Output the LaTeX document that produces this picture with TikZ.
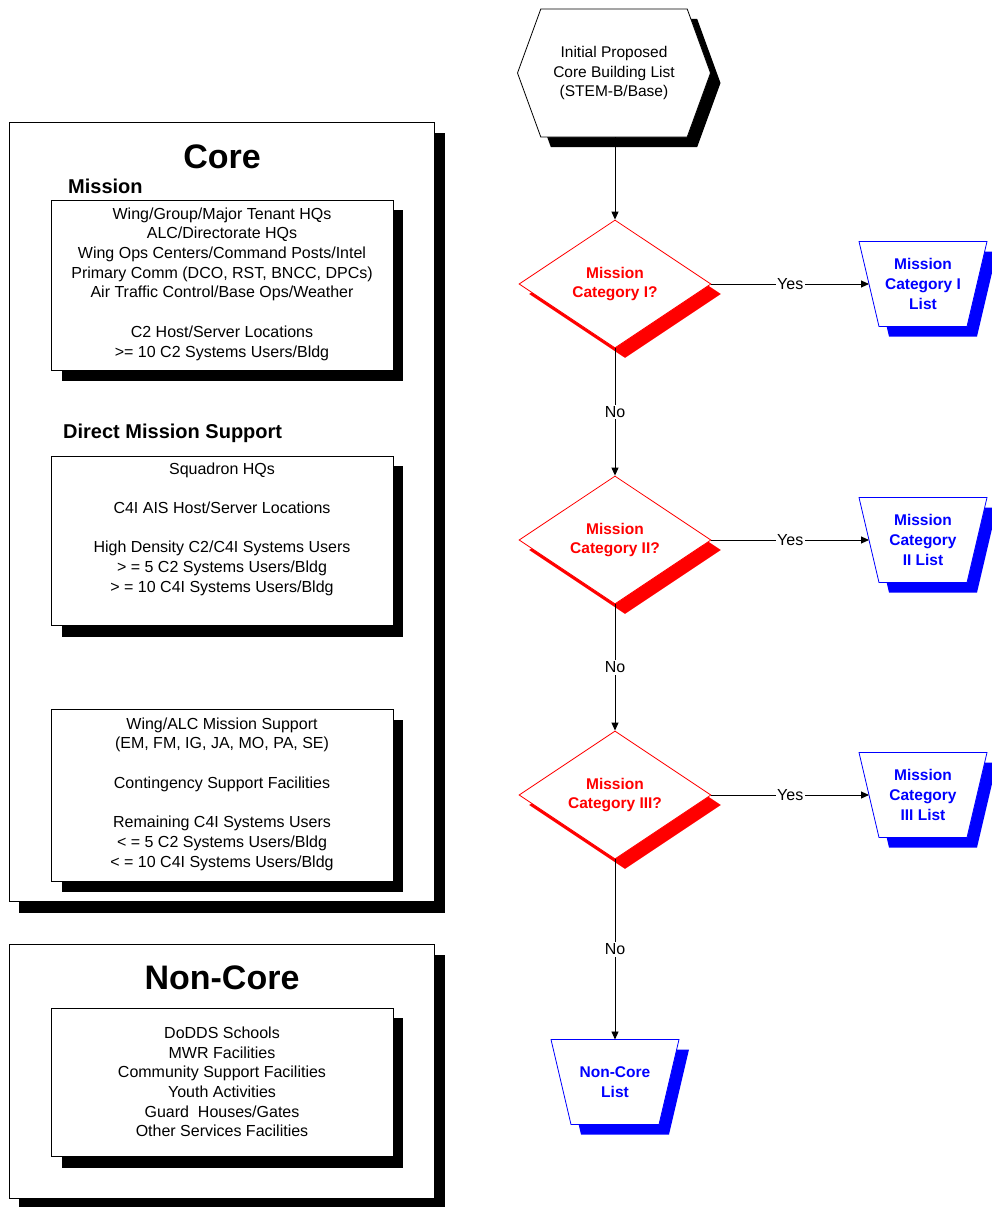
\documentclass[tikz,border=0pt]{standalone}
\usepackage{fontspec}
\setmainfont{Liberation Sans}
\usetikzlibrary{shapes.geometric,shapes.symbols,arrows.meta,shadows,calc}
\definecolor{myred}{RGB}{255,0,0}
\definecolor{myblue}{RGB}{0,0,255}
\newcommand{\listshape}[3]{%
  \begin{scope}[shift={(#2)}]
    \fill[myblue] (-54,-32.5) -- (74,-32.5) -- (54,52.5) -- (-34,52.5) -- cycle;
    \filldraw[draw=myblue,fill=white,line width=0.8pt] (-64,-42.5) -- (64,-42.5) -- (44,42.5) -- (-44,42.5) -- cycle;
    \coordinate (#1w) at (-54,0);
    \coordinate (#1n) at (0,-42.5);
  \end{scope}
  \node[listtext] (#1) at (#2) {#3};}
\begin{document}
\begin{tikzpicture}[x=1pt,y=-1pt,
  boxline/.style={draw=black,fill=white,line width=0.9pt},
  shadowfill/.style={fill=black},
  txt/.style={font=\fontsize{16}{19.7}\selectfont,align=center,inner sep=0pt},
  head/.style={font=\fontsize{20}{24}\selectfont\bfseries,anchor=west,inner sep=0pt},
  title/.style={font=\fontsize{34}{40}\selectfont\bfseries,inner sep=0pt},
  decision/.style={diamond,draw=myred,fill=white,line width=0.8pt,minimum width=192pt,minimum height=128pt,inner sep=0pt,
     text=myred,font=\fontsize{15.5}{19.7}\selectfont\bfseries,align=center,
     drop shadow={fill=myred,opacity=1,shadow xshift=10pt,shadow yshift=-10pt}},
  listtext/.style={text=myblue,font=\fontsize{15.5}{19.7}\selectfont\bfseries,align=center,inner sep=0pt},
  startbox/.style={signal,signal to=east and west,signal pointer angle=140,minimum width=193pt,minimum height=128pt,
     draw=black,fill=white,line width=0.8pt,inner sep=0pt,font=\fontsize{15.5}{19.7}\selectfont,align=center,
     drop shadow={fill=black,opacity=1,shadow xshift=10pt,shadow yshift=-10pt}},
  arr/.style={draw=black,line width=0.9pt,-{Triangle[length=8pt,width=7pt]}},
  lbl/.style={fill=white,font=\fontsize{16}{19}\selectfont,inner sep=1.5pt}
]
\useasboundingbox (0,0) rectangle (992,1207);

% ---------- Core panel ----------
\fill[shadowfill] (19,133) rectangle (445,913);
\draw[boxline] (9,122) rectangle (434,901);
\node[title] (coretitle) at (222,157) {Core};
\node[head] (missionhead) at (68,186) {Mission};
\fill[shadowfill] (62,210) rectangle (403,381);
\draw[boxline] (51,200) rectangle (393,370);
\node[txt] (missiontxt) at (222,284) {Wing/Group/Major Tenant HQs\\ALC/Directorate HQs\\Wing Ops Centers/Command Posts/Intel\\Primary Comm (DCO, RST, BNCC, DPCs)\\Air Traffic Control/Base Ops/Weather\\[19.7pt]C2 Host/Server Locations\\>= 10 C2 Systems Users/Bldg};

\node[head] (dmshead) at (63,433) {Direct Mission Support};
\fill[shadowfill] (62,466) rectangle (403,637);
\draw[boxline] (51,456) rectangle (393,625);
\node[txt] (dmstxt) at (222,529) {Squadron HQs\\[19.7pt]C4I AIS Host/Server Locations\\[19.7pt]High Density C2/C4I Systems Users\\> = 5 C2 Systems Users/Bldg\\> = 10 C4I Systems Users/Bldg};

\fill[shadowfill] (62,720) rectangle (403,892);
\draw[boxline] (51,709) rectangle (393,881);
\node[txt] (supptxt) at (222,794) {Wing/ALC Mission Support\\(EM, FM, IG, JA, MO, PA, SE)\\[19.7pt]Contingency Support Facilities\\[19.7pt]Remaining C4I Systems Users\\< = 5 C2 Systems Users/Bldg\\< = 10 C4I Systems Users/Bldg};

% ---------- Non-Core panel ----------
\fill[shadowfill] (19,955) rectangle (445,1212);
\draw[boxline] (9,944) rectangle (434,1198);
\node[title] (noncoretitle) at (222,978) {Non-Core};
\fill[shadowfill] (62,1018) rectangle (403,1168);
\draw[boxline] (51,1008) rectangle (393,1156);
\node[txt] (noncoretxt) at (222,1082) {DoDDS Schools\\MWR Facilities\\Community Support Facilities\\Youth Activities\\Guard\ \ Houses/Gates\\Other Services Facilities};

% ---------- Flowchart ----------
\node[startbox] (start) at (614,73) {Initial Proposed\\Core Building List\\(STEM-B/Base)};

\node[decision] (d1) at (615,284) {Mission\\Category I?};
\node[decision] (d2) at (615,540) {Mission\\Category II?};
\node[decision] (d3) at (615,795) {Mission\\Category III?};

\listshape{l1}{923,284}{Mission\\Category I\\List}
\listshape{l2}{923,540}{Mission\\Category\\II List}
\listshape{l3}{923,795}{Mission\\Category\\III List}
\listshape{l4}{615,1082}{Non-Core\\List}

\draw[arr] (start.south -| d1.north) -- (d1.north);
\draw[arr] (d1.south) -- node[lbl] {No} (d2.north);
\draw[arr] (d2.south) -- node[lbl] {No} (d3.north);
\draw[arr] (d3.south) -- node[lbl] {No} (l4n);

\draw[arr] (d1.east) -- node[lbl] {Yes} (l1w);
\draw[arr] (d2.east) -- node[lbl] {Yes} (l2w);
\draw[arr] (d3.east) -- node[lbl] {Yes} (l3w);
\end{tikzpicture}
\end{document}
